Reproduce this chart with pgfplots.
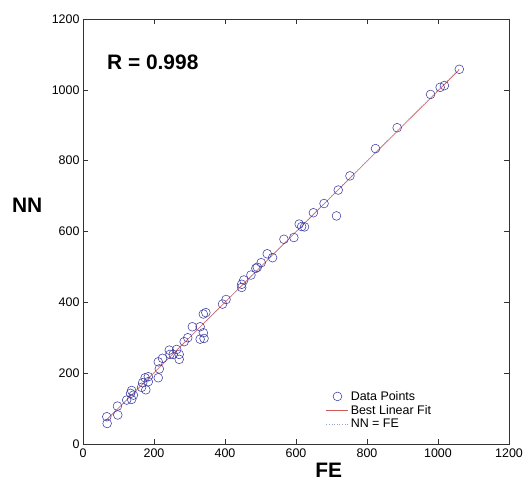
\documentclass[border=0pt]{standalone}
\usepackage{fontspec}
\setmainfont{Liberation Sans}
\usepackage{pgfplots}
\pgfplotsset{compat=1.18}

\definecolor{markblue}{RGB}{60,60,165}
\definecolor{fitred}{RGB}{205,90,90}
\definecolor{idgray}{RGB}{150,160,200}

\pgfplotsset{
  marklegend/.style={legend image code/.code={\draw[mark repeat=2,mark phase=2,##1] plot coordinates {(0bp,0bp) (11bp,0bp) (22bp,0bp)};}},
  linelegend/.style={legend image code/.code={\draw[##1] (0bp,0bp) -- (22bp,0bp);}},
}

\pgfplotstableread{
x y
1060 1058
1018 1012
1006 1007
979 987
885 893
824 834
752 757
719 717
714 644
679 679
649 653
624 613
609 621
616 614
594 583
566 578
534 526
519 537
502 512
491 499
487 496
473 477
453 463
447 451
447 442
403 408
393 395
346 371
339 367
339 314
330 331
341 298
330 296
308 331
295 300
285 289
271 253
271 239
264 267
254 253
243 265
245 253
224 242
212 232
215 212
212 187
184 190
175 187
184 176
168 173
165 160
177 153
137 151
134 143
142 138
137 126
123 124
97 107
98 82
67 77
68 58
}\datapoints

\begin{document}
\begin{tikzpicture}
\useasboundingbox (-83bp,-37bp) rectangle (440bp,444bp);
\begin{axis}[
  scale only axis,
  width=426bp, height=425bp,
  xmin=0, xmax=1200, ymin=0, ymax=1200,
  xtick={0,200,...,1200}, ytick={0,200,...,1200},
  tick align=inside,
  major tick length=5bp,
  axis line style={black!80, line width=0.6pt},
  every tick/.style={black!80, line width=0.6pt},
  tick label style={font=\fontsize{12.5}{14}\selectfont},
  /pgf/number format/assume math mode=true,
  /pgf/number format/1000 sep={},
  xticklabel style={yshift=-1bp},
  xlabel={\fontsize{21}{23}\selectfont\bfseries FE},
  ylabel={\fontsize{21}{23}\selectfont\bfseries NN},
  xlabel style={at={(axis description cs:0.577,-0.061)}, anchor=center, inner sep=0pt},
  ylabel style={at={(axis description cs:-0.131,0.562)}, anchor=center, rotate=-90},
  legend style={draw=none, fill=none, at={(axis cs:676,161)}, anchor=north west,
    font=\fontsize{12.5}{14}\selectfont, row sep=-0.5bp},
  legend cell align=left,
  clip=false,
]
\addplot[only marks, mark=o, mark size=4.4pt, draw=markblue, line width=0.55pt, marklegend]
  table[x=x,y=y] {\datapoints};
\addlegendentry{Data Points}
\addplot[fitred, line width=0.6pt, linelegend]
  coordinates {(65,67) (1060,1057)};
\addlegendentry{Best Linear Fit}
\addplot[idgray, dotted, line width=0.6pt, linelegend]
  coordinates {(65,65) (1060,1060)};
\addlegendentry{NN = FE}
\node[anchor=west, font=\fontsize{21}{24}\selectfont\bfseries] at (axis cs:58,1079) {R = 0.998};
\end{axis}
\end{tikzpicture}
\end{document}
